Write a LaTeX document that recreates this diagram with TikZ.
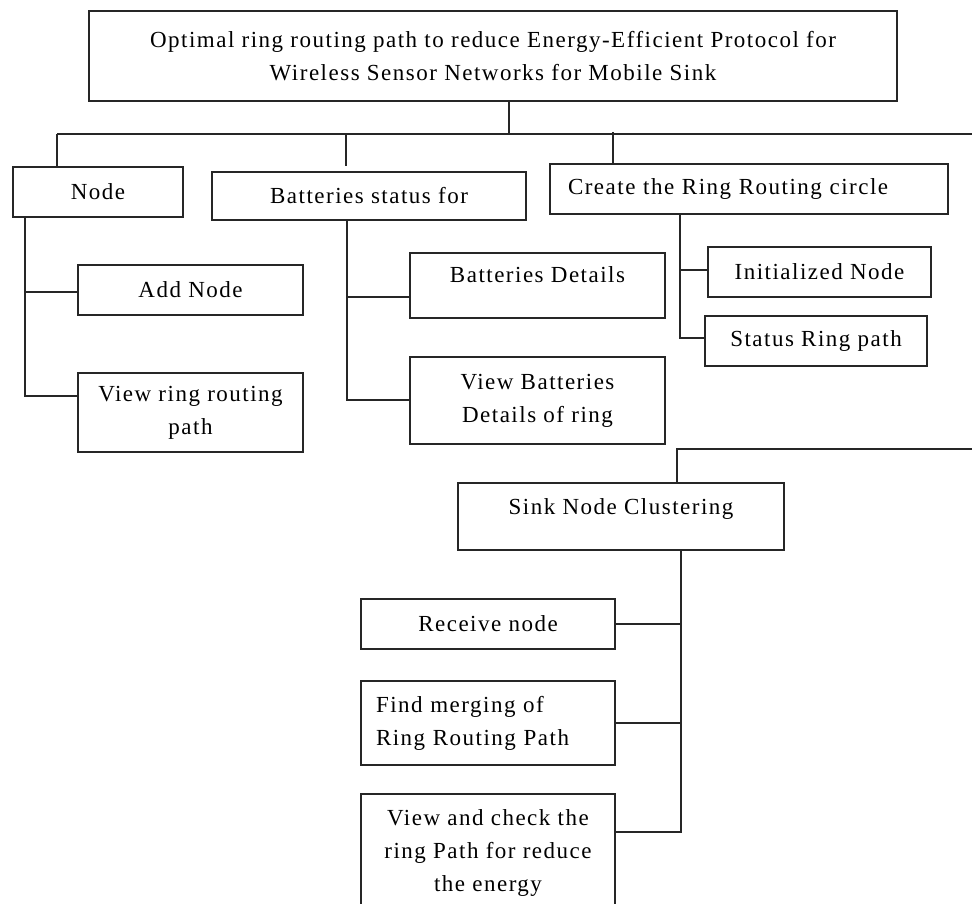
\documentclass[tikz,border=0pt]{standalone}
\usepackage{fontspec}
\setmainfont[LetterSpace=6.5]{Liberation Serif}
\usepackage{tikz}
\tikzset{
  x=1pt,y=-1pt,
  line width=1.3pt,
}
\tikzstyle{every node}=[font=\fontsize{23}{33}\selectfont]
\tikzstyle{box}=[draw=black!85,line width=1.3pt,rectangle,inner sep=0pt,align=center]
\tikzstyle{link}=[draw=black!85,line width=1.3pt]

\begin{document}
\begin{tikzpicture}
    \clip (0,0) rectangle (972,904);
    \fill[white] (0,0) rectangle (972,904);
    % main title
    \node[box,minimum width=808pt,minimum height=90pt] (title) at (493,56)
      {Optimal ring routing path to reduce Energy-Efficient Protocol for\\Wireless Sensor Networks for Mobile Sink};
    % first level
    \node[box,minimum width=170pt,minimum height=50pt] (node) at (98,192) {Node};
    \node[box,minimum width=314pt,minimum height=48pt] (batt) at (369,196) {Batteries status for};
    \node[box,minimum height=50pt,text width=362pt,inner xsep=18pt,align=left] (ring) at (749,189)
      {Create the Ring Routing circle};
    % under Node
    \node[box,minimum width=225pt,minimum height=79pt] (viewring) at (190.5,412.5) {View ring routing\\path};
    \node[box,minimum width=225pt,minimum height=50pt] (addnode) at (190.5,290) {Add Node};
    % under batteries
    \node[box,minimum width=255pt,minimum height=65pt,text height=16pt,text depth=23pt] (battdet) at (537.5,285.5)
      {Batteries Details};
    \node[box,minimum width=255pt,minimum height=87pt] (viewbatt) at (537.5,400.5)
      {View Batteries\\Details of ring};
    % under ring routing circle
    \node[box,minimum width=223pt,minimum height=50pt] (init) at (819.5,272) {Initialized Node};
    \node[box,minimum width=222pt,minimum height=50pt] (status) at (816,341) {Status Ring path};
    % sink part
    \node[box,minimum width=326pt,minimum height=67pt,text height=16pt,text depth=21pt] (sink) at (621,516.5)
      {Sink Node Clustering};
    \node[box,minimum width=254pt,minimum height=50pt] (recv) at (488,624) {Receive node};
    \node[box,minimum height=84pt,text width=224pt,inner xsep=15pt,align=left] (find) at (488,723)
      {Find merging of\\Ring Routing Path};
    \node[box,minimum width=254pt,minimum height=118pt] (viewchk) at (488,853)
      {View and check the\\ring Path for reduce\\the energy};

    % top bus
    \coordinate (hub) at (509,134);
    \coordinate (busL) at (57,134);
    \coordinate (busR) at (972,134);
    \coordinate (dropB) at (346,134);
    \coordinate (dropR) at (613,132);
    \draw[link] (title.south -| hub) -- (hub);
    \draw[link] (busL) -- (busR);
    \draw[link] (busL) -- (busL |- node.north);
    \draw[link] (dropB) -- ++(0,32);
    \draw[link] (dropR) -- (dropR |- ring.north);

    % Node branch
    \coordinate (nT) at (25,396);
    \draw[link] (nT |- node.south) -- (nT) -- (viewring.west |- nT);
    \draw[link] (nT |- 0,292) -- (addnode.west |- 0,292);

    % batteries branch
    \coordinate (bT) at (347,400);
    \draw[link] (bT |- batt.south) -- (bT) -- (viewbatt.west |- bT);
    \draw[link] (bT |- 0,297) -- (battdet.west |- 0,297);

    % ring branch
    \coordinate (rT) at (680,338);
    \draw[link] (rT |- ring.south) -- (rT) -- (status.west |- rT);
    \draw[link] (rT |- 0,270) -- (init.west |- 0,270);

    % second bus to sink
    \coordinate (bus2) at (972,449);
    \coordinate (s2) at (677,449);
    \draw[link] (bus2) -- (s2) -- (s2 |- sink.north);

    % sink branch
    \coordinate (sT) at (681,832);
    \draw[link] (sT |- sink.south) -- (sT) -- (viewchk.east |- sT);
    \draw[link] (recv.east) -- (recv.east -| sT);
    \draw[link] (find.east) -- (find.east -| sT);
\end{tikzpicture}
\end{document}
